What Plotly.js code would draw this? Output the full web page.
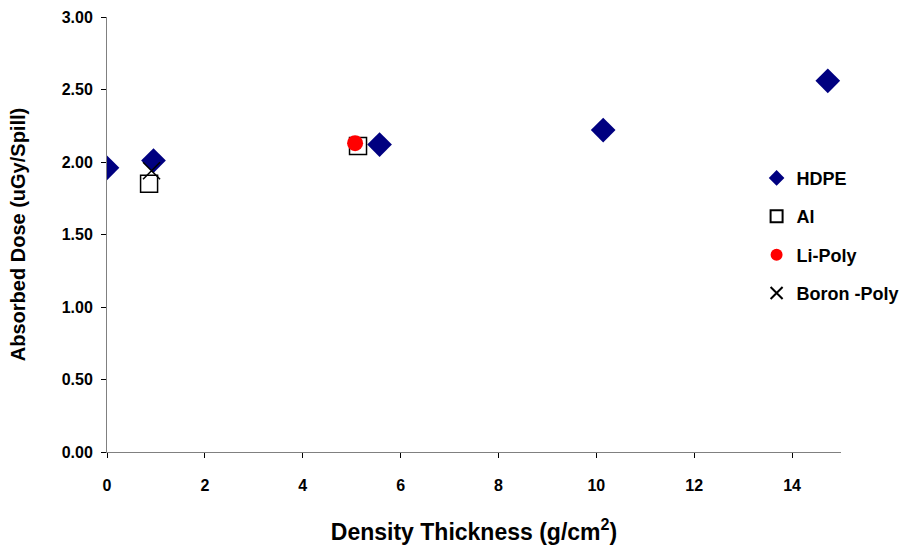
<!DOCTYPE html>
<html>
<head>
<meta charset="utf-8">
<script src="https://cdn.plot.ly/plotly-3.0.1.min.js"></script>
<style>html,body{margin:0;padding:0;background:#fff}#chart{width:917px;height:548px}</style>
</head>
<body>
<div id="chart"></div>
<script>
// Data
const hdpeX = [0, 0.95, 5.57, 10.14, 14.73];
const hdpeY = [1.96, 2.01, 2.12, 2.22, 2.56];
const alX = [0.86, 5.13];
const alY = [1.85, 2.11];
const liPolyX = [5.07];
const liPolyY = [2.13];
const boronPolyX = [0.91];
const boronPolyY = [1.94];
const seriesNames = ["HDPE", "Al", "Li-Poly", "Boron -Poly"];
const xTickVals = [0, 2, 4, 6, 8, 10, 12, 14];
const yTickVals = [0, 0.5, 1, 1.5, 2, 2.5, 3];

const font = "Liberation Sans, Arial, sans-serif";

const traces = [
  {x: hdpeX, y: hdpeY, name: seriesNames[0], legendgroup: "g1", type: "scatter", mode: "markers",
   marker: {symbol: "diamond", size: 19, color: "#000080", line: {width: 0}}},
  {x: alX, y: alY, name: seriesNames[1], legendgroup: "g2", type: "scatter", mode: "markers",
   marker: {symbol: "square-open", size: 17, color: "#000000", line: {width: 1.5}}},
  {x: liPolyX, y: liPolyY, name: seriesNames[2], legendgroup: "g3", type: "scatter", mode: "markers",
   marker: {symbol: "circle", size: 16, color: "#ff0000", line: {width: 0}}},
  {x: boronPolyX, y: boronPolyY, name: seriesNames[3], legendgroup: "g4", type: "scatter", mode: "markers",
   marker: {symbol: "x-thin-open", size: 17, color: "#000000", line: {width: 1.5, color: "#000000"}}}
];

const layout = {
  width: 917, height: 548,
  margin: {l: 107, r: 76, t: 17, b: 96},
  paper_bgcolor: "#ffffff", plot_bgcolor: "#ffffff",
  font: {family: font, color: "#000000"},
  showlegend: true,
  legend: {x: 0.885, y: 0.672, xanchor: "left", yanchor: "top", tracegroupgap: 12,
           itemsizing: "constant", font: {family: font, size: 18, weight: "bold", color: "#000"},
           bgcolor: "rgba(0,0,0,0)"},
  xaxis: {range: [0, 15], tickvals: xTickVals, ticktext: xTickVals.map(String),
          showgrid: false, zeroline: false, showline: true, linecolor: "#808080", linewidth: 1,
          ticks: "outside", ticklen: 5, tickcolor: "#000000", tickwidth: 1, ticklabelstandoff: 14,
          tickfont: {family: font, size: 16, weight: "bold"},
          title: {text: "Density Thickness (g/cm<sup>2</sup>)", font: {family: font, size: 23, weight: "bold"}, standoff: 30}},
  yaxis: {range: [0, 3], tickvals: yTickVals, tickformat: ".2f",
          showgrid: false, zeroline: false, showline: true, linecolor: "#808080", linewidth: 1,
          ticks: "outside", ticklen: 5, tickcolor: "#000000", tickwidth: 1, ticklabelstandoff: 5,
          tickfont: {family: font, size: 16, weight: "bold"},
          title: {text: "Absorbed Dose (uGy/Spill)", font: {family: font, size: 20, weight: "bold"}, standoff: 30}}
};

Plotly.newPlot("chart", traces, layout, {displayModeBar: false, responsive: false});
</script>
</body>
</html>
